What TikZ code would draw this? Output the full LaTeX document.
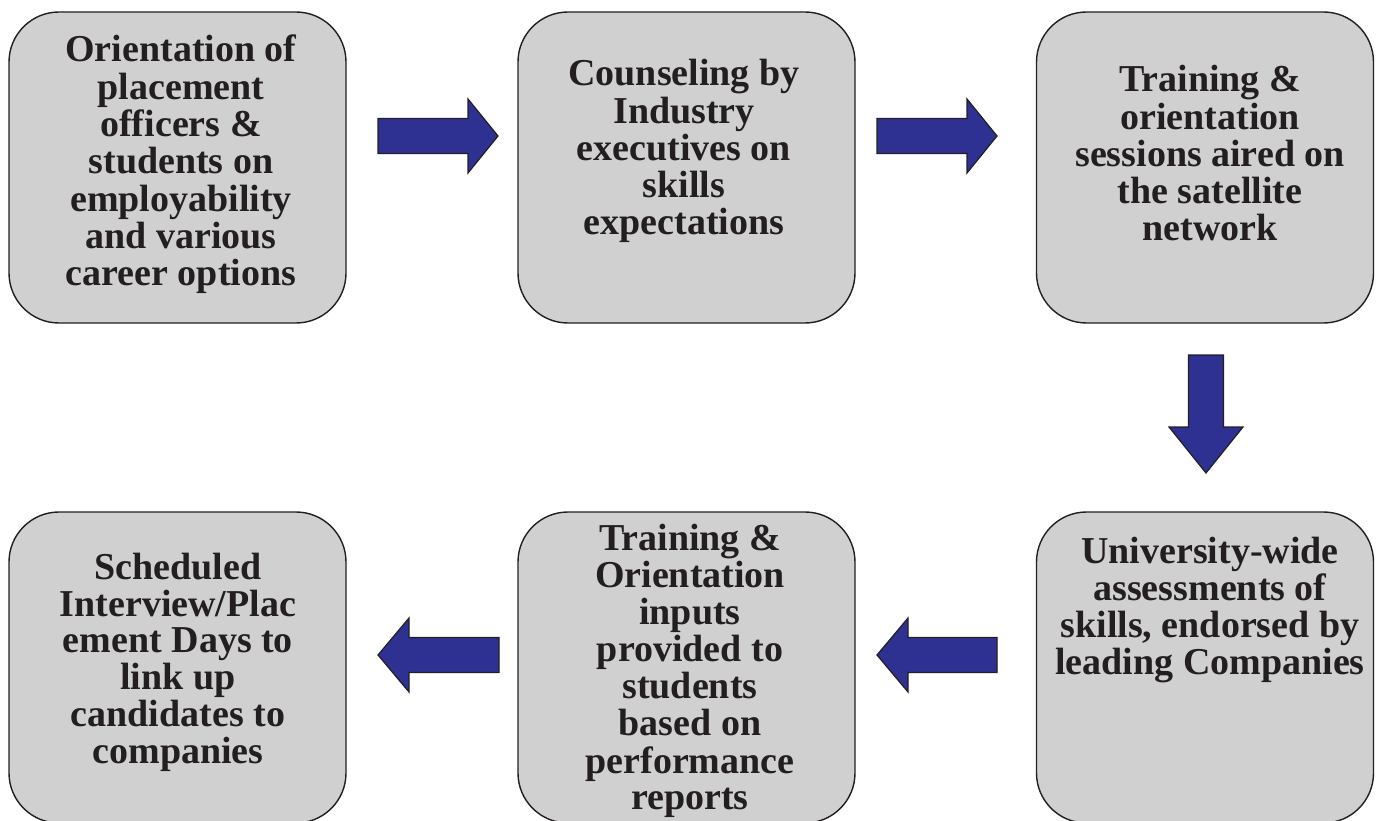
\documentclass[tikz,border=0pt]{standalone}
\usepackage{fontspec}
\setmainfont{Liberation Serif}

\definecolor{boxfill}{HTML}{D0D0D0}
\definecolor{boxline}{HTML}{231F20}
\definecolor{arrowblue}{HTML}{2E3192}

\begin{document}
\begin{tikzpicture}[x=1pt,y=-1pt,
  stepbox/.style={draw=boxline, line width=1.4pt, fill=boxfill,
    rounded corners=50pt, minimum width=337pt, minimum height=311pt,
    inner sep=0pt},
  steptext/.style={anchor=base, inner sep=0pt, text=boxline,
    font=\bfseries\fontsize{38}{36}\selectfont},
  arrowfill/.style={fill=arrowblue, draw=boxline, line width=1.2pt,
    line join=miter},
  pics/blockarrow/.style 2 args={code={
    \draw[arrowfill] (0,-17.5) -- (#1-#2,-17.5) -- (#1-#2,-37) -- (#1,0)
      -- (#1-#2,37) -- (#1-#2,17.5) -- (0,17.5) -- cycle;}}]

\useasboundingbox (0,0) rectangle (1387,821);
\clip (0,0) rectangle (1387,821);

% process boxes
\node[stepbox] (b1) at (177.5,167.5) {};
\node[stepbox] (b2) at (686.5,167.5) {};
\node[stepbox] (b3) at (1205,167.5) {};
\node[stepbox] (b4) at (177.5,667.5) {};
\node[stepbox] (b5) at (686.5,667.5) {};
\node[stepbox] (b6) at (1205,667.5) {};

% box texts
\node[steptext] (t1) at (181,62) {\begin{tabular}[t]{@{}c@{}}
  Orientation of\\ placement\\ officers \&\\ students on\\ employability\\
  and various\\ career options\end{tabular}};
\node[steptext] (t2) at (684,86) {\begin{tabular}[t]{@{}c@{}}
  Counseling by\\ Industry\\ executives on\\ skills\\ expectations\end{tabular}};
\node[steptext] (t3) at (1210,92) {\begin{tabular}[t]{@{}c@{}}
  Training \&\\ orientation\\ sessions aired on\\ the satellite\\ network\end{tabular}};
\node[steptext] (t4) at (178,579) {\begin{tabular}[t]{@{}c@{}}
  Scheduled\\ Interview/Plac\\ ement Days to\\ link up\\ candidates to\\
  companies\end{tabular}};
\node[steptext] (t5) at (690,550) {\begin{tabular}[t]{@{}c@{}}
  Training \&\\ Orientation\\ inputs\\ provided to\\ students\\ based on\\
  performance\\ reports\end{tabular}};
\node[steptext] (t6) at (1210,563) {\begin{tabular}[t]{@{}c@{}}
  University-wide\\ assessments of\\ skills, endorsed by\\
  leading Companies\end{tabular}};

% block arrows between the steps
\pic at (378,136) {blockarrow={120}{30}};
\pic at (877,136) {blockarrow={120}{30}};
\pic[rotate=-90] at (1206,355) {blockarrow={118}{46}};
\pic[rotate=180] at (997,655) {blockarrow={120}{31}};
\pic[rotate=180] at (499,655) {blockarrow={121}{31}};
\end{tikzpicture}
\end{document}
